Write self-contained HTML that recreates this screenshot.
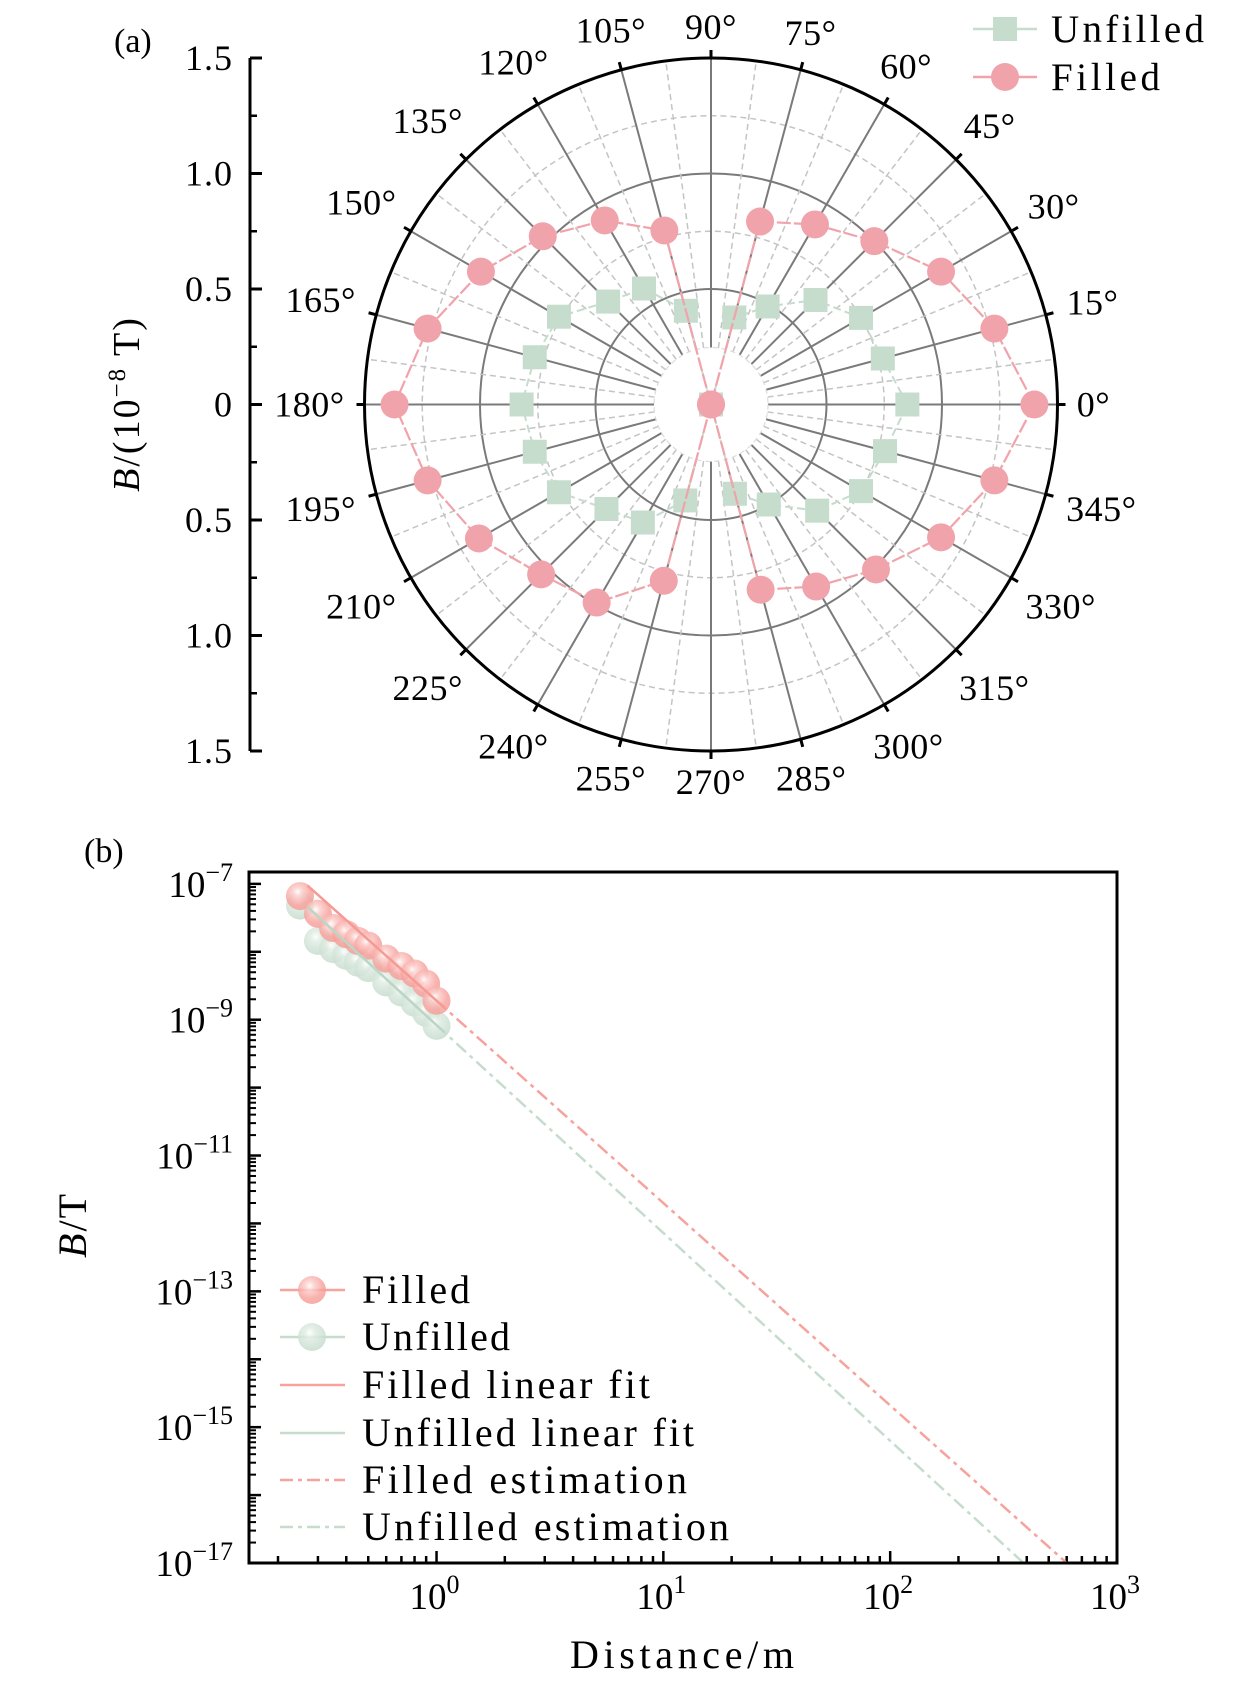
<!DOCTYPE html>
<html><head><meta charset="utf-8"><style>
html,body{margin:0;padding:0;background:#fff}
svg{display:block;font-family:"Liberation Serif",serif}
</style></head><body>
<svg id="fig" width="1260" height="1685" viewBox="0 0 1260 1685" xmlns="http://www.w3.org/2000/svg">
<text x="114" y="52" font-size="34">(a)</text>
<text x="84" y="862" font-size="34">(b)</text>
<g id="polar"></g>
<g id="logplot"></g>
</svg>
<script>
// ---- Panel (a) data ----
const angles=[0,15,30,45,60,75,90,105,120,135,150,165,180,195,210,225,240,255,270,285,300,315,330,345];
const filledPolar=[1.40,1.27,1.15,1.0,0.90,0.82,0,0.78,0.92,1.03,1.15,1.27,1.37,1.27,1.16,1.04,0.99,0.79,0,0.83,0.91,1.01,1.15,1.27];
const unfilledPolar=[0.85,0.77,0.75,0.64,0.49,0.39,0,0.42,0.58,0.63,0.76,0.79,0.82,0.79,0.76,0.64,0.59,0.43,0,0.40,0.50,0.65,0.75,0.78];
const radialTicks=[1.5,1.0,0.5,0,0.5,1.0,1.5];
// ---- Panel (b) data ----
const dist=[0.25,0.3,0.35,0.4,0.45,0.5,0.6,0.7,0.8,0.9,1.0];
const filledLog=[-7.18,-7.44,-7.65,-7.74,-7.84,-7.91,-8.10,-8.21,-8.32,-8.47,-8.72];
const unfilledLog=[-7.32,-7.84,-7.96,-8.06,-8.16,-8.24,-8.45,-8.60,-8.75,-8.90,-9.09];
const filledFit=[-8.72,-2.98];   // intercept, slope (log-log)
const unfilledFit=[-9.08,-3.06];
const yTickExp=[-7,-9,-11,-13,-15,-17];
const xTickExp=[0,1,2,3];

const NS="http://www.w3.org/2000/svg";
function mk(parent,tag,attrs,text){const e=document.createElementNS(NS,tag);for(const k in attrs)e.setAttribute(k,attrs[k]);if(text!==undefined)e.textContent=text;parent.appendChild(e);return e;}

// ===== Polar =====
const P=document.getElementById('polar');
const cx=711,cy=404.5,R=346.5,rmax=1.5;
const rs=v=>v/rmax*R;
const px=(a,v)=>cx+rs(v)*Math.cos(a*Math.PI/180);
const py=(a,v)=>cy-rs(v)*Math.sin(a*Math.PI/180);
const hole=57;
[0.75,1.25].forEach(v=>{const c=mk(P,'circle',{cx:cx,cy:cy,r:rs(v),fill:'none',stroke:'#c4c4c4','stroke-width':1.5,'stroke-dasharray':'6 4'});});
[0.5,1.0].forEach(v=>{const c=mk(P,'circle',{cx:cx,cy:cy,r:rs(v),fill:'none',stroke:'#7a7a7a','stroke-width':2});});
for(let a=0;a<360;a+=7.5){
  const major=(a%15===0);
  const l=mk(P,'line',{x1:cx+hole*Math.cos(a*Math.PI/180),y1:cy-hole*Math.sin(a*Math.PI/180),x2:px(a,rmax),y2:py(a,rmax),stroke:major?'#7a7a7a':'#c4c4c4','stroke-width':major?2:1.5,'stroke-dasharray':major?'none':'6 4'});
  
  
}
{const c=mk(P,'circle',{cx:cx,cy:cy,r:hole,fill:'#fff',stroke:'#dcdcdc','stroke-width':1.2,'stroke-dasharray':'5 4'});}
{const c=mk(P,'circle',{cx:cx,cy:cy,r:R,fill:'none',stroke:'#000','stroke-width':3});}
for(let a=0;a<360;a+=15){
  const t=mk(P,'line',{x1:px(a,rmax),y1:py(a,rmax),x2:cx+(R+8)*Math.cos(a*Math.PI/180),y2:cy-(R+8)*Math.sin(a*Math.PI/180),stroke:'#000','stroke-width':3});
  
}
angles.forEach(a=>{
  const s=a+'°';const w=s.length*19+2,h=30;
  const c=Math.cos(a*Math.PI/180),sn=Math.sin(a*Math.PI/180);
  const d=R+16+(w/2*Math.abs(c)+h/2*Math.abs(sn));
  const t=mk(P,'text',{x:cx+d*c,y:cy-d*sn+12,'font-size':36,'letter-spacing':0.5,'text-anchor':'middle'},s);
  
});
function polyPts(vals){return angles.map((a,i)=>px(a,vals[i]).toFixed(1)+','+py(a,vals[i]).toFixed(1)).join(' ');}
{const g=mk(P,'polygon',{points:polyPts(unfilledPolar),fill:'none',stroke:'#c6dccd','stroke-width':2,'stroke-dasharray':'8 4'});}
angles.forEach((a,i)=>{const r=mk(P,'rect',{x:px(a,unfilledPolar[i])-12,y:py(a,unfilledPolar[i])-12,width:24,height:24,fill:'#c6dccd'});});
{const g=mk(P,'polygon',{points:polyPts(filledPolar),fill:'none',stroke:'#f0a3aa','stroke-width':2.2,'stroke-dasharray':'14 3'});}
angles.forEach((a,i)=>{const c=mk(P,'circle',{cx:px(a,filledPolar[i]),cy:py(a,filledPolar[i]),r:14,fill:'#f0a3aa'});});
{const l=mk(P,'line',{x1:250,y1:cy-R,x2:250,y2:cy+R,stroke:'#000','stroke-width':3});}
radialTicks.forEach((v,i)=>{
  const y=cy-R+i*(2*R/(radialTicks.length-1));
  const tk=mk(P,'line',{x1:250,y1:y,x2:262,y2:y,stroke:'#000','stroke-width':3});
  const lb=mk(P,'text',{x:233,y:y+12,'font-size':36,'letter-spacing':1,'text-anchor':'end'},v===0?'0':v.toFixed(1));
  if(i<radialTicks.length-1){const ym=y+R/(radialTicks.length-1);const m=mk(P,'line',{x1:250,y1:ym,x2:257,y2:ym,stroke:'#000','stroke-width':2.5});}
});
{const t=mk(P,'text',{transform:'translate(139,404) rotate(-90)','font-size':38,'letter-spacing':2,'text-anchor':'middle'});
 t.innerHTML='<tspan font-style="italic">B</tspan>/(10<tspan dy="-14" font-size="25">−8</tspan><tspan dy="14"> T)</tspan>';}
{const g=mk(P,'g',{});
 mk(g,'line',{x1:973,y1:29,x2:1037,y2:29,stroke:'#c6dccd','stroke-width':2.5});
 mk(g,'rect',{x:993,y:17,width:24,height:24,fill:'#c6dccd'});
 const t1=mk(g,'text',{x:1051,y:42,'font-size':39,textLength:153,lengthAdjust:'spacing'},'Unfilled');
 mk(g,'line',{x1:973,y1:77,x2:1037,y2:77,stroke:'#f0a3aa','stroke-width':2.5});
 mk(g,'circle',{cx:1005,cy:77,r:14,fill:'#f0a3aa'});
 const t2=mk(g,'text',{x:1051,y:90,'font-size':39,textLength:109,lengthAdjust:'spacing'},'Filled');
}

// ===== Log plot =====
const L=document.getElementById('logplot');
const X0=249,X1=1117,Y0=872,Y1=1563;
const lxmin=Math.log10(0.149),lxmax=3,lymin=-17,lymax=-6.825;
const sx=lx=>X0+(lx-lxmin)/(lxmax-lxmin)*(X1-X0);
const sy=ly=>Y1-(ly-lymin)/(lymax-lymin)*(Y1-Y0);
const defs=mk(L,'defs',{});
defs.innerHTML='<radialGradient id="gp" cx="0.42" cy="0.35" r="0.65"><stop offset="0" stop-color="#fff" stop-opacity="0.95"/><stop offset="0.25" stop-color="#fbd0cd" stop-opacity="0.85"/><stop offset="0.7" stop-color="#f7a09b" stop-opacity="0.8"/><stop offset="1" stop-color="#f59a95" stop-opacity="0.8"/></radialGradient><radialGradient id="gg" cx="0.42" cy="0.35" r="0.65"><stop offset="0" stop-color="#fff" stop-opacity="0.95"/><stop offset="0.3" stop-color="#dfece3" stop-opacity="0.85"/><stop offset="1" stop-color="#c3dacb" stop-opacity="0.8"/></radialGradient>';
for(let e=-17;e<=-7;e++){
  const y=sy(e);const t=mk(L,'line',{x1:X0,y1:y,x2:X0+12,y2:y,stroke:'#000','stroke-width':2.5});
  if(e<-7)for(let k=2;k<=9;k++){const ym=sy(e+Math.log10(k));const m=mk(L,'line',{x1:X0,y1:ym,x2:X0+7,y2:ym,stroke:'#000','stroke-width':2});}
}
for(let k=2;k<=9;k++){const ym=sy(-7+Math.log10(k));if(ym>Y0){const m=mk(L,'line',{x1:X0,y1:ym,x2:X0+7,y2:ym,stroke:'#000','stroke-width':2});}}
yTickExp.forEach(e=>{const t=mk(L,'text',{x:X0-16,y:sy(e)+13,'font-size':37,'text-anchor':'end'});t.innerHTML='10<tspan dy="-16" font-size="26">−'+(-e)+'</tspan>';});
for(let e=-1;e<3;e++)for(let k=1;k<=9;k++){
  const lx=e+Math.log10(k);if(lx<lxmin||lx>lxmax)continue;const x=sx(lx);const maj=k===1;
  const t=mk(L,'line',{x1:x,y1:Y1,x2:x,y2:Y1-(maj?12:7),stroke:'#000','stroke-width':2.5});
}
xTickExp.forEach(e=>{const t=mk(L,'text',{x:sx(e)-2,y:1609,'font-size':37,'text-anchor':'middle'});t.innerHTML='10<tspan dy="-16" font-size="26">'+e+'</tspan>';});
function estLine(fit,col,name){const lx1=(lymin-fit[0])/fit[1];const l=mk(L,'line',{x1:sx(0),y1:sy(fit[0]),x2:sx(lx1),y2:sy(lymin),stroke:col,'stroke-width':2.5,'stroke-dasharray':'13 5 4 5'});}
estLine(unfilledFit,'#c6dccd','unfilled-estimation');
estLine(filledFit,'#f5a39c','filled-estimation');
function markers(vals,grad,name){dist.forEach((d,i)=>{const c=mk(L,'circle',{cx:sx(Math.log10(d)),cy:sy(vals[i]),r:14,fill:'url(#'+grad+')'});});}
markers(unfilledLog,'gg','unfilled-point');
markers(filledLog,'gp','filled-point');
function fitLine(fit,col,name){const a=Math.log10(0.27),b=Math.log10(1.08);const l=mk(L,'line',{x1:sx(a),y1:sy(fit[0]+fit[1]*a),x2:sx(b),y2:sy(fit[0]+fit[1]*b),stroke:col,'stroke-width':2.5});}
fitLine(unfilledFit,'#bcd5c4','unfilled-linear-fit');
fitLine(filledFit,'#f59a94','filled-linear-fit');
{const r=mk(L,'rect',{x:X0,y:Y0,width:X1-X0,height:Y1-Y0,fill:'none',stroke:'#000','stroke-width':3});}
{const t=mk(L,'text',{x:570,y:1668,'font-size':40,textLength:224,lengthAdjust:'spacing'},'Distance/m');}
{const t=mk(L,'text',{transform:'translate(86,1225) rotate(-90)','font-size':40,'letter-spacing':2,'text-anchor':'middle'});t.innerHTML='<tspan font-style="italic">B</tspan>/T';}
const legY=[1290,1337,1385,1433,1480,1527];
const legNames=['Filled','Unfilled','Filled linear fit','Unfilled linear fit','Filled estimation','Unfilled estimation'];
const legW=[108,148,288,332,325,367];
const legCols=['#f5a39c','#c6dccd','#f5a39c','#c6dccd','#f5a39c','#c6dccd'];
legNames.forEach((n,i)=>{
  const g=mk(L,'g',{});
  mk(g,'line',{x1:280,y1:legY[i],x2:345,y2:legY[i],stroke:legCols[i],'stroke-width':2.5,'stroke-dasharray':i>=4?'13 5 4 5':'none'});
  if(i<2)mk(g,'circle',{cx:312,cy:legY[i],r:14,fill:i===0?'url(#gp)':'url(#gg)'});
  mk(g,'text',{x:362,y:legY[i]+13,'font-size':40,textLength:legW[i],lengthAdjust:'spacing'},n);
});
</script>
</body></html>
